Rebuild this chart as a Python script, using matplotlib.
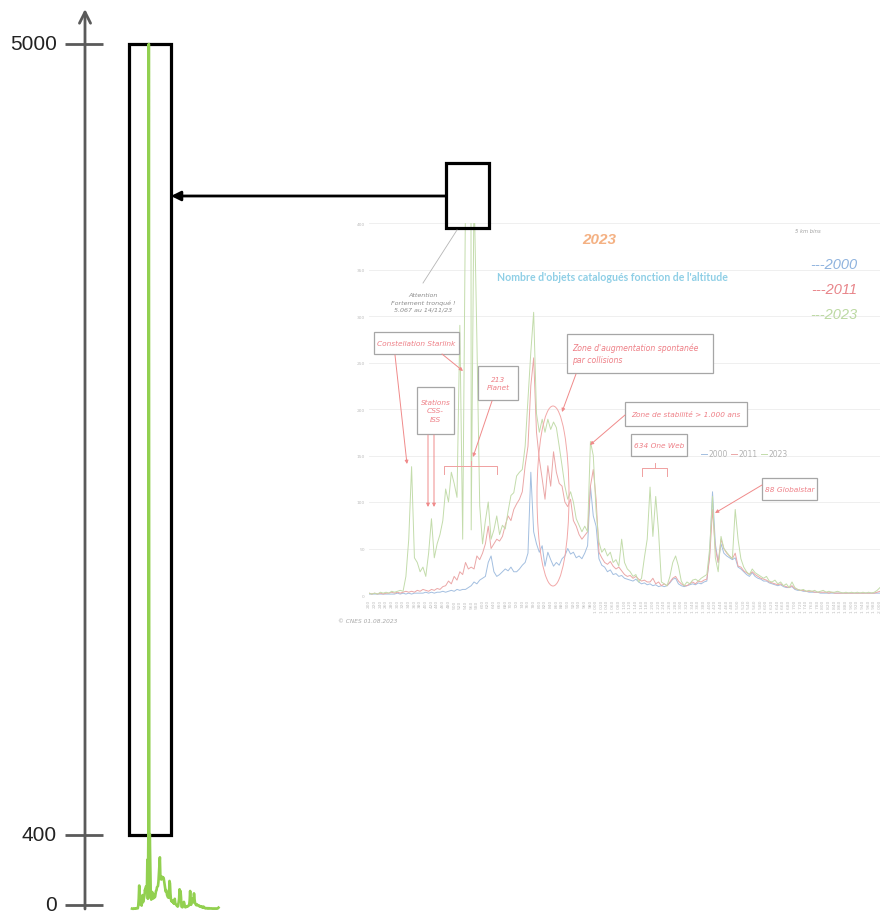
import numpy as np
import matplotlib
matplotlib.use("Agg")
import matplotlib.pyplot as plt
from matplotlib.patches import Rectangle, Ellipse

W, H = 883, 912

# objets catalogues par tranche d'altitude (lu sur le graphique CNES, pas de 10 km)
altitude_km = np.arange(200, 2001, 10)

count_2000 = [
    1, 1, 1, 1, 1, 1, 1, 1, 1, 1,
    2, 1, 2, 1, 2, 1, 2, 2, 2, 2,
    3, 2, 3, 2, 3, 3, 4, 3, 4, 5,
    4, 6, 5, 6, 6, 8, 10, 14, 12, 16,
    18, 20, 35, 42, 25, 20, 22, 25, 28, 26,
    30, 25, 25, 28, 32, 35, 45, 132, 68, 55,
    46, 53, 31, 46, 38, 31, 35, 32, 39, 42,
    50, 44, 46, 40, 42, 39, 45, 53, 117, 85,
    74, 39, 32, 30, 25, 27, 22, 23, 20, 21,
    18, 17, 16, 15, 17, 14, 12, 13, 11, 12,
    10, 11, 9, 10, 9, 10, 13, 17, 18, 12,
    10, 9, 10, 11, 12, 11, 13, 12, 14, 15,
    45, 111, 55, 35, 55, 45, 42, 40, 38, 40,
    30, 28, 25, 22, 20, 24, 20, 18, 17, 15,
    15, 13, 12, 11, 10, 11, 9, 8, 8, 9,
    6, 5, 5, 4, 4, 3, 3, 3, 3, 2,
    2, 2, 2, 2, 2, 2, 2, 2, 2, 2,
    2, 2, 2, 2, 2, 2, 2, 2, 2, 2,
    2,
]

count_2011 = [
    2, 1, 2, 1, 2, 1, 2, 2, 3, 2,
    3, 2, 3, 4, 3, 4, 3, 5, 4, 6,
    5, 4, 6, 5, 7, 6, 9, 10, 15, 12,
    20, 16, 25, 22, 35, 28, 30, 28, 42, 38,
    45, 55, 74, 50, 55, 60, 58, 63, 75, 85,
    80, 92, 98, 103, 111, 139, 160, 225, 255, 175,
    146, 125, 103, 139, 117, 154, 132, 120, 117, 100,
    95, 103, 80, 74, 65, 60, 64, 68, 117, 135,
    103, 46, 40, 35, 33, 36, 31, 28, 30, 26,
    22, 20, 21, 18, 20, 17, 15, 16, 14, 14,
    18, 12, 14, 10, 12, 10, 14, 18, 20, 15,
    12, 10, 10, 12, 14, 12, 15, 14, 16, 17,
    40, 92, 50, 35, 60, 50, 45, 42, 39, 45,
    31, 30, 26, 24, 22, 25, 22, 20, 18, 17,
    16, 14, 13, 12, 11, 12, 10, 9, 8, 10,
    7, 6, 5, 5, 4, 4, 4, 3, 3, 3,
    3, 3, 2, 3, 2, 2, 2, 2, 2, 2,
    2, 2, 2, 2, 2, 2, 2, 2, 2, 3,
    4,
]

count_2023 = [
    2, 1, 2, 1, 3, 2, 3, 2, 4, 3,
    4, 5, 4, 20, 60, 138, 40, 35, 25, 30,
    20, 45, 82, 40, 55, 65, 80, 114, 100, 132,
    120, 105, 290, 60, 430, 5067, 70, 440, 275, 96,
    55, 80, 100, 60, 70, 85, 65, 75, 71, 90,
    107, 110, 128, 132, 135, 160, 211, 261, 304, 195,
    175, 189, 175, 189, 178, 186, 180, 160, 139, 117,
    103, 111, 100, 82, 75, 68, 74, 68, 165, 150,
    90, 57, 46, 50, 42, 46, 35, 38, 31, 60,
    35, 28, 25, 20, 22, 14, 18, 40, 60, 116,
    63, 106, 68, 14, 12, 10, 20, 35, 42, 31,
    15, 10, 14, 12, 16, 17, 15, 18, 20, 22,
    50, 106, 40, 25, 63, 50, 46, 42, 39, 92,
    60, 39, 30, 25, 22, 28, 24, 22, 20, 18,
    20, 15, 14, 16, 12, 14, 10, 12, 8, 14,
    8, 6, 5, 6, 4, 5, 4, 5, 3, 4,
    5, 3, 4, 3, 3, 4, 3, 2, 3, 2,
    3, 2, 3, 2, 3, 2, 3, 2, 3, 5,
    8,
]

years = ["2000", "2011", "2023"]
faded_colors = ["#a3bfe0", "#eba7a7", "#c3dcab"]
legend_colors = ["#8fb3de", "#e8858a", "#bcd9a3"]

big_ticks = [0, 400, 5000]
inset_yticks = [0, 50, 100, 150, 200, 250, 300, 350, 400]
inset_xticks = list(range(200, 2001, 20))

red = "#ee7f86"
box_edge = "#a6a6a6"

fig = plt.figure(figsize=(W / 100, H / 100), dpi=100)


def fig_box(x0, y0, x1, y1):
    return [x0 / W, 1 - y1 / H, (x1 - x0) / W, (y1 - y0) / H]


# ---- graphique CNES (copie d'ecran delavee) ----
ax_in = fig.add_axes(fig_box(369, 224, 880, 596))
lines = []
for series, col, yr in zip([count_2000, count_2011, count_2023], faded_colors, years):
    ln, = ax_in.plot(altitude_km, series, color=col, lw=0.7, label=yr)
    lines.append(ln)
ax_in.set_xlim(200, 2000)
ax_in.set_ylim(0, 400)
ax_in.set_yticks(inset_yticks)
ax_in.set_xticks(inset_xticks)
ax_in.set_xticklabels([f"{v:,}".replace(",", " ") for v in inset_xticks], rotation=90)
ax_in.tick_params(length=0, labelsize=3.2, colors="#bdbdbd", pad=3)
ax_in.grid(axis="y", color="#ececec", lw=0.6)
ax_in.set_axisbelow(True)
for s in ax_in.spines.values():
    s.set_visible(False)
ax_in.patch.set_alpha(0)
ax_in.legend(handles=lines, loc="center", bbox_to_anchor=(744 / W, 1 - 455 / H),
             bbox_transform=fig.transFigure, ncol=3, frameon=False, fontsize=5.5,
             handlelength=0.8, handletextpad=0.2, columnspacing=0.4, labelcolor="#b3b3b3")

# ---- calque en pixels pour le schema ----
ax = fig.add_axes([0, 0, 1, 1])
ax.set_xlim(0, W)
ax.set_ylim(H, 0)
ax.axis("off")
ax.patch.set_visible(False)


def tick_y(v):
    # echelle brisee de l'axe : 0-400 puis 400-5000
    v = np.minimum(np.asarray(v, dtype=float), 5000)
    return np.where(v <= 400, 906 - v * 70 / 400, 836 - (v - 400) * 791 / 4600)


def mini_y(v):
    v = np.minimum(np.asarray(v, dtype=float), 5000)
    return np.where(v <= 400, 910 - v * 68 / 400, 842 - (v - 400) * 797 / 4600)


def mini_x(km):
    return 132 + (np.asarray(km, dtype=float) - 200) * 86.5 / 1800


# axe vertical
ax.annotate("", xy=(85, 10), xytext=(85, 910),
            arrowprops=dict(arrowstyle="->", color="#5a5a5a", lw=2,
                            mutation_scale=20, shrinkA=0, shrinkB=0))
for t in big_ticks:
    yt = float(tick_y(t))
    ax.plot([65, 103], [yt, yt], color="#5a5a5a", lw=2, solid_capstyle="butt")
    ax.text(57, yt, str(t), ha="right", va="center", fontsize=15,
            family="Liberation Sans", color="#222222")

# courbe 2023 en miniature
ax.plot(mini_x(altitude_km), mini_y(count_2023), color="#92d050", lw=1.9,
        solid_joinstyle="round")
ax.add_patch(Rectangle((129, float(tick_y(5000))), 42,
                       float(tick_y(400) - tick_y(5000)), fill=False, ec="black", lw=2.3))

# zoom : carre + fleche
ax.add_patch(Rectangle((446, 164), 43, 65, fill=False, ec="black", lw=2.3))
ax.annotate("", xy=(171, 197), xytext=(446, 197),
            arrowprops=dict(arrowstyle="-|>", color="black", lw=2,
                            mutation_scale=14, shrinkA=0, shrinkB=0))

# titres du graphique CNES
ax.text(599, 240, "2023", ha="center", va="center", fontsize=11, color="#f4b183",
        style="italic", weight="bold", family="Liberation Sans")
ax.text(612, 278, "Nombre d'objets catalogués fonction de l'altitude", ha="center",
        va="center", fontsize=7.6, color="#8fcfe6", family="Lato", weight="bold")
ax.text(808, 232, "5 km bins", ha="center", va="center", fontsize=3.8,
        color="#a0a0a0", style="italic")
for i, (yr, col) in enumerate(zip(years, legend_colors)):
    ax.text(834, 265 + 25 * i, "---" + yr, ha="center", va="center", fontsize=10.5,
            color=col, style="italic", family="Liberation Sans")
ax.text(338, 622, "© CNES 01.08.2023", ha="left", va="center", fontsize=4.2,
        color="#a8a8a8", style="italic")

# remarque sur la troncature
ax.text(423, 303, "Attention\nFortement tronqué !\n5.067 au 14/11/23", ha="center",
        va="center", fontsize=4.6, color="#8c8c8c", style="italic", linespacing=1.5)
ax.plot([423, 457], [284, 231], color="#b5b5b5", lw=0.6)

# encadres rouges
boxes = [
    ((374, 333, 459, 355), "Constellation Starlink"),
    ((417, 388, 454, 435), "Stations\nCSS-\nISS"),
    ((478, 367, 518, 401), "213\nPlanet"),
    ((567, 335, 713, 374), "Zone d'augmentation spontanée\npar collisions"),
    ((625, 403, 747, 427), "Zone de stabilité > 1.000 ans"),
    ((631, 435, 687, 457), "634 One Web"),
    ((762, 479, 817, 501), "88 Globalstar"),
]
for (x0, y0, x1, y1), txt in boxes:
    ax.add_patch(Rectangle((x0, y0), x1 - x0, y1 - y0, fc="white", ec=box_edge, lw=0.9))
    ha = "left" if txt.startswith("Zone d'") else "center"
    tx = x0 + 5 if ha == "left" else (x0 + x1) / 2
    size = 5.6 if ha == "left" else 5.3
    ax.text(tx, (y0 + y1) / 2, txt, ha=ha, va="center", fontsize=size, color=red,
            style="italic", linespacing=1.5)

arrows = [
    ((442, 355), (463, 372)),
    ((395, 356), (407, 465)),
    ((428, 436), (428, 508)),
    ((434, 436), (434, 508)),
    ((492, 402), (473, 458)),
    ((576, 375), (562, 413)),
    ((625, 416), (590, 446)),
    ((762, 486), (715, 514)),
]
for start, end in arrows:
    ax.annotate("", xy=end, xytext=start,
                arrowprops=dict(arrowstyle="-|>", color="#f08a8a", lw=0.7,
                                mutation_scale=5, shrinkA=0, shrinkB=0))

# accolades
for x0, x1, yb in [(444, 497, 467), (642, 667, 469)]:
    xm = (x0 + x1) / 2
    ax.plot([x0, x0, x1, x1], [yb + 8, yb, yb, yb + 8], color="#f0a0a0", lw=0.7)
    ax.plot([xm, xm], [yb, yb - 5], color="#f0a0a0", lw=0.7)

ax.add_patch(Ellipse((553, 497), 32, 180, fill=False, ec="#f2a8a8", lw=0.7))

fig.savefig("out.png", dpi=100)
